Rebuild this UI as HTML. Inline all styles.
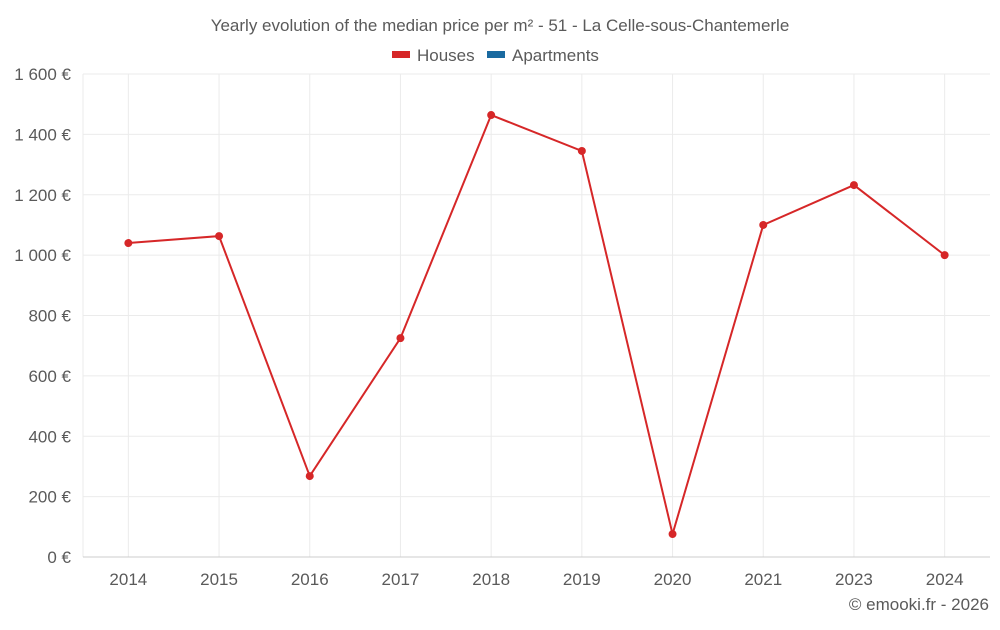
<!DOCTYPE html>
<html><head><meta charset="utf-8">
<style>
body{margin:0;background:#fff;font-family:"Liberation Sans",sans-serif;}
svg text{font-family:"Liberation Sans",sans-serif;fill:#5a5a5a;}
</style></head>
<body>
<svg id="chart" width="1000" height="625">
<text x="500" y="31" text-anchor="middle" font-size="17">Yearly evolution of the median price per m² - 51 - La Celle-sous-Chantemerle</text>
<g><rect x="392" y="51" width="18" height="7" fill="#d62728"/><text x="417" y="61" font-size="17">Houses</text></g>
<g><rect x="487" y="51" width="18" height="7" fill="#1a6aa0"/><text x="512" y="61" font-size="17">Apartments</text></g>
<g id="grid"></g><g id="axes"></g><g id="series"></g>
<text x="989" y="610" text-anchor="end" font-size="17">© emooki.fr - 2026</text>
</svg>
<script>
const categories=["2014","2015","2016","2017","2018","2019","2020","2021","2023","2024"];
const houses=[1040,1063,268,725,1464,1345,76,1100,1232,1000];
const yTicks=[0,200,400,600,800,1000,1200,1400,1600];
const yTickLabels=["0 €","200 €","400 €","600 €","800 €","1 000 €","1 200 €","1 400 €","1 600 €"];
const NS="http://www.w3.org/2000/svg";
const L=83,R=990,T=74,B=557,yMax=1600;
const bw=(R-L)/categories.length;
const x=i=>L+bw*(i+0.5);
const y=v=>B-(v/yMax)*(B-T);
function mk(tag,attrs,parent){const e=document.createElementNS(NS,tag);for(const k in attrs)e.setAttribute(k,attrs[k]);document.getElementById(parent).appendChild(e);return e;}
const lg=mk("line",{x1:L,x2:L,y1:T,y2:B,stroke:"#ebebeb"},"grid");


categories.forEach((c,i)=>{
 const g=mk("line",{x1:x(i),x2:x(i),y1:T,y2:B,stroke:"#ebebeb"},"grid");
 
 
});
yTicks.forEach((t,i)=>{
 const g=mk("line",{x1:L,x2:R,y1:y(t),y2:y(t),stroke:i===0?"#ccc":"#ebebeb"},"grid");
 
 
 const tx=mk("text",{x:71,y:y(t)+6,"text-anchor":"end","font-size":"17"},"axes");
 tx.textContent=yTickLabels[i];
 
 
});
categories.forEach((c,i)=>{
 const tx=mk("text",{x:x(i),y:585,"text-anchor":"middle","font-size":"17"},"axes");
 tx.textContent=c;
 
 
});
const line=mk("polyline",{points:houses.map((v,i)=>x(i)+","+y(v)).join(" "),fill:"none",stroke:"#d62728","stroke-width":2},"series");


houses.forEach((v,i)=>{
 const p=mk("circle",{cx:x(i),cy:y(v),r:4,fill:"#d62728"},"series");
 
 
});
</script>
</body></html>
